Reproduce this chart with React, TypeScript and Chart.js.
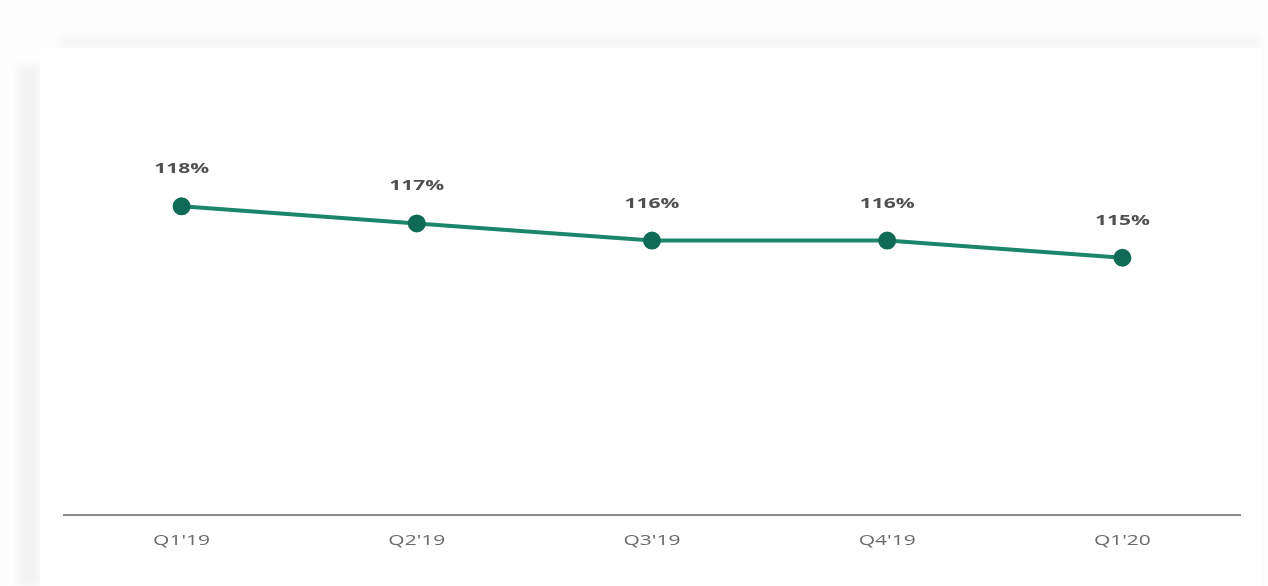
import React, { useEffect, useRef } from "react";
import { Chart, registerables } from "chart.js";

Chart.register(...registerables);

const categories = ["Q1'19", "Q2'19", "Q3'19", "Q4'19", "Q1'20"];
const values = [118, 117, 116, 116, 115];
const valueLabels = ["118%", "117%", "116%", "116%", "115%"];

const STRETCH = 1.5;

function drawStretched(ctx: CanvasRenderingContext2D, text: string, x: number, y: number) {
  ctx.save();
  ctx.translate(x, y);
  ctx.scale(STRETCH, 1);
  ctx.fillText(text, 0, 0);
  ctx.restore();
}

const labelPlugin = {
  id: "stretchedLabels",
  afterDatasetsDraw(chart: any) {
    const ctx = chart.ctx;
    const meta = chart.getDatasetMeta(0);
    ctx.save();
    ctx.font = "bold 14px 'Open Sans', sans-serif";
    ctx.fillStyle = "#505050";
    ctx.textAlign = "center";
    ctx.textBaseline = "middle";
    meta.data.forEach((pt: any, i: number) => {
      drawStretched(ctx, valueLabels[i], pt.x, pt.y - 37);
    });
    const xs = chart.scales.x;
    ctx.font = "14px 'Open Sans', sans-serif";
    ctx.fillStyle = "#6a6a6a";
    categories.forEach((c, i) => {
      drawStretched(ctx, c, xs.getPixelForValue(i), 541);
    });
    ctx.restore();
  },
};

export default function App() {
  const ref = useRef<HTMLCanvasElement>(null);
  useEffect(() => {
    document.body.style.margin = "0";
    const chart = new Chart(ref.current!, {
      type: "line",
      data: {
        labels: categories,
        datasets: [
          {
            data: values,
            borderColor: "#1c866d",
            backgroundColor: "#0f6b56",
            borderWidth: 4,
            pointRadius: 7,
            pointHoverRadius: 7,
            pointBackgroundColor: "#0f6b56",
            pointBorderColor: "#0f6b56",
            tension: 0,
            clip: false as any,
          },
        ],
      },
      options: {
        animation: false,
        responsive: false,
        layout: { padding: { left: 64, right: 28, top: 172, bottom: 0 } },
        plugins: { legend: { display: false }, tooltip: { enabled: false } },
        scales: {
          x: {
            offset: true,
            grid: { display: false, drawTicks: false },
            border: { display: true, color: "#8a8a8a", width: 2 },
            ticks: { display: false },
            afterFit: (s: any) => {
              s.height = 71;
            },
          },
          y: {
            display: false,
            min: 100,
            max: 120,
          },
        },
      },
      plugins: [labelPlugin],
    });
    return () => chart.destroy();
  }, []);
  return (
    <div style={{ position: "relative", width: 1268, height: 586, background: "#fdfdfd", overflow: "hidden" }}>
      <div style={{ position: "absolute", left: 60, top: 36, width: 1200, height: 12, background: "#f6f6f6", filter: "blur(3px)" }} />
      <div style={{ position: "absolute", left: 18, top: 66, width: 22, height: 520, background: "#f3f3f3", filter: "blur(3px)" }} />
      <div style={{ position: "absolute", left: 40, top: 48, width: 1222, height: 538, background: "#ffffff" }} />
      <canvas ref={ref} width={1268} height={586} style={{ position: "absolute", left: 0, top: 0 }} />
    </div>
  );
}
